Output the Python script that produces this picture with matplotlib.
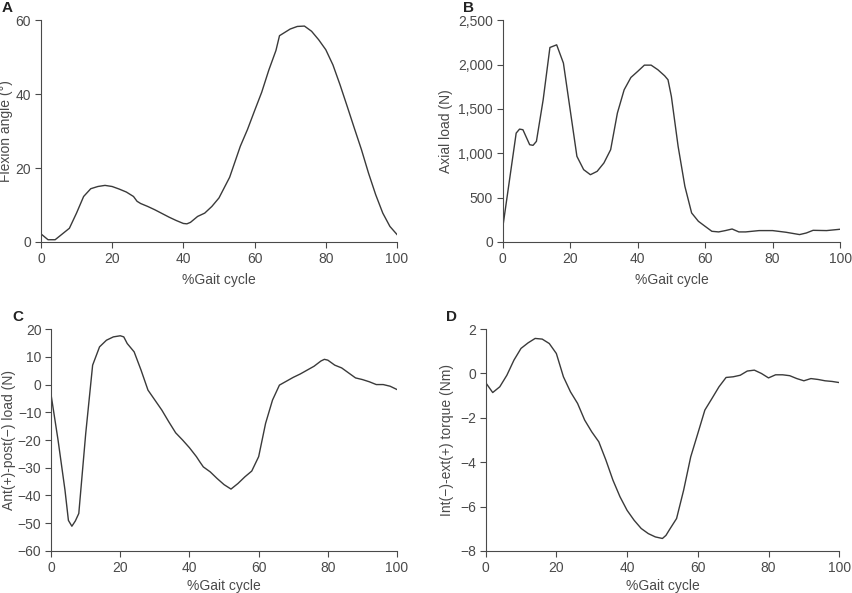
import matplotlib.pyplot as plt
from matplotlib.ticker import FuncFormatter

plt.rcParams['font.family'] = ['Liberation Sans', 'DejaVu Sans']

# A: knee flexion angle
a_x = [0, 2, 4, 8, 10, 12, 14, 16, 18, 20, 22, 24, 26, 27, 28, 30, 32, 34, 36, 38, 40, 41, 42, 44, 46,
       48, 50, 53, 56, 58, 60, 62, 64, 66, 67, 70, 72, 74, 76, 78, 80, 82, 84, 86, 88, 90, 92, 94, 96, 98, 100]
a_y = [2.2, 0.6, 0.6, 3.7, 7.8, 12.3, 14.4, 15.0, 15.3, 15.0, 14.3, 13.5, 12.3, 11.0, 10.4, 9.6, 8.7, 7.7,
       6.7, 5.8, 5.0, 4.9, 5.3, 6.9, 7.8, 9.6, 11.9, 17.5, 25.9, 30.4, 35.5, 40.5, 46.5, 51.8, 55.8, 57.6,
       58.3, 58.4, 57.0, 54.7, 52.0, 47.9, 42.5, 36.7, 30.8, 25.0, 18.6, 12.8, 7.8, 4.2, 2.0]

# B: axial load
b_x = [0, 4, 5, 6, 8, 9, 10, 12, 14, 16, 18, 20, 22, 24, 26, 28, 30, 32, 34, 36, 38, 40, 42, 44, 46, 48,
       49, 50, 52, 54, 56, 58, 60, 62, 64, 66, 68, 70, 72, 76, 80, 84, 88, 90, 92, 96, 100]
b_y = [158, 1227, 1272, 1265, 1096, 1089, 1134, 1603, 2192, 2222, 2016, 1490, 965, 815, 758, 796, 890,
       1040, 1453, 1715, 1854, 1922, 1993, 1993, 1941, 1873, 1828, 1640, 1077, 627, 327, 233, 176, 120,
       113, 128, 146, 113, 113, 128, 128, 109, 83, 101, 131, 128, 143]

# C: anterior-posterior load
c_x = [0, 2, 4, 5, 6, 7, 8, 10, 12, 14, 16, 18, 20, 21, 22, 24, 26, 28, 30, 32, 34, 36, 38, 40, 42, 43,
       44, 46, 48, 50, 52, 54, 56, 58, 60, 62, 64, 66, 68, 70, 72, 74, 76, 78, 79, 80, 82, 84, 86, 88, 90,
       92, 94, 96, 98, 100]
c_y = [-3.8, -20, -38, -49, -51.1, -49.2, -46.5, -17.7, 7.0, 13.6, 16.0, 17.2, 17.6, 17.2, 14.8, 11.8,
       5.2, -2.0, -5.6, -9.2, -13.4, -17.4, -20.0, -22.8, -26.0, -27.9, -29.7, -31.5, -33.9, -36.1,
       -37.7, -35.7, -33.3, -31.2, -26.0, -14.0, -5.6, -0.2, 1.2, 2.6, 3.8, 5.2, 6.6, 8.5, 9.1, 8.8, 7.0,
       6.0, 4.2, 2.4, 1.8, 1.0, 0.0, 0.0, -0.6, -1.8]

# D: internal-external torque
d_x = [0, 2, 4, 6, 8, 10, 12, 14, 16, 18, 20, 22, 24, 26, 28, 30, 32, 34, 36, 38, 40, 42, 44, 46, 48, 50,
       51, 52, 54, 56, 58, 60, 62, 64, 66, 68, 70, 72, 74, 76, 78, 80, 82, 84, 86, 88, 90, 92, 94, 96, 98, 100]
d_y = [-0.41, -0.86, -0.6, -0.08, 0.6, 1.13, 1.38, 1.58, 1.55, 1.35, 0.9, -0.15, -0.83, -1.35, -2.1,
       -2.63, -3.08, -3.9, -4.81, -5.56, -6.17, -6.62, -6.99, -7.22, -7.37, -7.44, -7.3, -7.04, -6.54,
       -5.26, -3.76, -2.71, -1.65, -1.13, -0.6, -0.18, -0.15, -0.08, 0.11, 0.15, 0.0, -0.2, -0.06, -0.06,
       -0.1, -0.23, -0.33, -0.23, -0.27, -0.33, -0.36, -0.41]

x_ticks = [0, 20, 40, 60, 80, 100]
gray = '#4a4a4a'
line_col = '#3a3a3a'

panels = [
    ('A', a_x, a_y, 'Flexion angle (°)', (0, 60), [0, 20, 40, 60], [0.048, 0.592, 0.418, 0.374], 2, 5),
    ('B', b_x, b_y, 'Axial load (N)', (0, 2500), [0, 500, 1000, 1500, 2000, 2500], [0.590, 0.592, 0.396, 0.374], 4, 5),
    ('C', c_x, c_y, 'Ant(+)-post(\u2212) load (N)', (-60, 20), list(range(-60, 21, 10)), [0.060, 0.071, 0.406, 0.374], 1, 3),
    ('D', d_x, d_y, 'Int(\u2212)-ext(+) torque (Nm)', (-8, 2), [-8, -6, -4, -2, 0, 2], [0.570, 0.071, 0.415, 0.374], 4, 3),
]

fig = plt.figure(figsize=(8.52, 5.93), dpi=100)
for letter, xs, ys, ylabel, ylim, yticks, rect, lpad, xpad in panels:
    ax = fig.add_axes(rect)
    ax.plot(xs, ys, color=line_col, lw=1.0)
    ax.set_xlim(0, 100)
    ax.set_ylim(*ylim)
    ax.set_xticks(x_ticks)
    ax.set_yticks(yticks)
    ax.yaxis.set_major_formatter(FuncFormatter(lambda v, p: f'{v:,.0f}'.replace('-', '\u2212')))
    ax.spines['top'].set_visible(False)
    ax.spines['right'].set_visible(False)
    for s in ('left', 'bottom'):
        ax.spines[s].set_color(gray)
        ax.spines[s].set_linewidth(0.8)
    ax.tick_params(colors=gray, labelsize=10, length=4, width=0.8, pad=3)
    ax.set_xlabel('%Gait cycle', color=gray, fontsize=10, labelpad=xpad)
    ax.set_ylabel(ylabel, color=gray, fontsize=10, labelpad=lpad)
    fig.text(rect[0] - 0.046, rect[1] + rect[3] + 0.008, letter,
             fontsize=11, fontweight='bold', color='#222222', va='bottom')

fig.savefig('out.png', dpi=100)
